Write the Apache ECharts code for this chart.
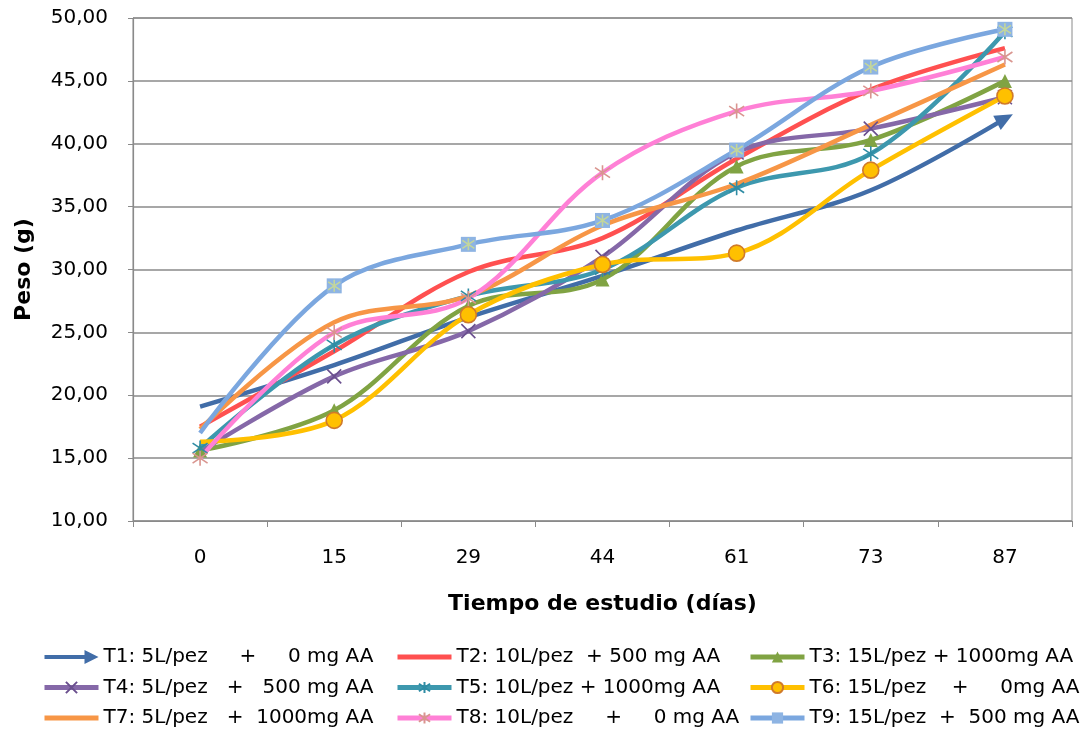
<!DOCTYPE html>
<html><head><meta charset="utf-8">
<script src="https://cdn.jsdelivr.net/npm/echarts@6/dist/echarts.min.js"></script>
<style>html,body{margin:0;padding:0;background:#fff}#c{width:1088px;height:730px}</style>
</head><body><div id="c"></div>
<script>
const categories = ['0', '15', '29', '44', '61', '73', '87'];
const yTickLabels = ['10,00','15,00','20,00','25,00','30,00','35,00','40,00','45,00','50,00'];
const names = [
  'T1: 5L/pez     +     0 mg AA',
  'T2: 10L/pez  + 500 mg AA',
  'T3: 15L/pez + 1000mg AA',
  'T4: 5L/pez   +   500 mg AA',
  'T5: 10L/pez + 1000mg AA',
  'T6: 15L/pez    +     0mg AA',
  'T7: 5L/pez   +  1000mg AA',
  'T8: 10L/pez     +     0 mg AA',
  'T9: 15L/pez  +  500 mg AA'
];
const T1 = [19.1, 22.4, 26.2, 29.5, 33.1, 36.3, 42.0];
const T2 = [17.5, 23.5, 29.8, 32.5, 38.8, 44.3, 47.6];
const T3 = [15.6, 18.8, 27.1, 29.2, 38.2, 40.3, 45.0];
const T4 = [15.5, 21.5, 25.1, 31.0, 39.3, 41.2, 43.7];
const T5 = [15.8, 24.0, 27.9, 30.0, 36.5, 39.2, 48.9];
const T6 = [16.3, 18.0, 26.4, 30.4, 31.3, 37.9, 43.8];
const T7 = [17.3, 25.8, 27.9, 33.5, 36.8, 41.5, 46.3];
const T8 = [15.0, 25.0, 27.7, 37.7, 42.6, 44.2, 46.9];
const T9 = [17.0, 28.7, 32.0, 33.9, 39.5, 46.1, 49.1];

const SM = 0.35, LW = 4.5;
const xPath = 'path://M0,0L10,10M10,0L0,10';
const starPath = 'path://M0,1L10,9M10,1L0,9M5,-1L5,11';

function line(name, data, color, extra) {
  return Object.assign({
    name: name, type: 'line', data: data, smooth: SM,
    lineStyle: { color: color, width: LW },
    itemStyle: { color: color },
    symbol: 'none'
  }, extra || {});
}
// first point drawn without a marker (as in the reference)
function noFirst(arr) { return arr.map((v, i) => i === 0 ? { value: v, symbol: 'none' } : v); }

const t1data = T1.map((v, i) => i === T1.length - 1
  ? { value: v, symbol: 'triangle', symbolSize: [16, 18], symbolRotate: -62 }
  : { value: v, symbol: 'none' });

const series = [
  line(names[0], t1data, '#416DA8', { symbol: 'none' }),
  line(names[1], T2, '#FF5050'),
  line(names[2], T3, '#80A343', { symbol: 'triangle', symbolSize: 14, itemStyle: { color: '#80A343' } }),
  line(names[3], noFirst(T4), '#8568A8', { symbol: xPath, symbolSize: 14, itemStyle: { color: '#6A4F8E', borderColor: '#6A4F8E', borderWidth: 1.6 } }),
  line(names[4], T5, '#3D98AE', { symbol: starPath, symbolSize: 15, itemStyle: { color: '#2F8CA4', borderColor: '#2F8CA4', borderWidth: 1.6 } }),
  line(names[5], noFirst(T6), '#FFC000', { symbol: 'circle', symbolSize: 16, itemStyle: { color: '#FFC000', borderColor: '#D07A2A', borderWidth: 1.6 } }),
  line(names[6], T7, '#F79646'),
  line(names[7], T8, '#FF80D6', { symbol: starPath, symbolSize: 15, itemStyle: { color: '#D9958F', borderColor: '#D9958F', borderWidth: 1.6 } }),
  line(names[8], noFirst(T9), '#7BA7DF', { symbol: 'rect', symbolSize: 15, itemStyle: { color: '#8EB4E3' } }),
  {
    name: 'T9m', type: 'line', data: noFirst(T9), silent: true, z: 3,
    lineStyle: { opacity: 0, width: 0 },
    symbol: starPath, symbolSize: 12,
    itemStyle: { color: '#C3D69B', borderColor: '#C3D69B', borderWidth: 1.6 }
  }
];

const legendText = { fontFamily: 'DejaVu Sans', fontSize: 20, color: '#000', lineHeight: 20 };
const t1Icon = 'path://M0,5L40,5L40,0L54,7L40,14L40,9L0,9Z';
const plainIcon = 'path://M0,0M0,4.5L54,4.5L54,9.5L0,9.5ZM54,14';
function legendCol(left, idx) {
  return {
    orient: 'vertical', left: left, top: 647, height: 100, padding: 0,
    itemWidth: 54, itemHeight: 14, itemGap: 10.5,
    lineStyle: { width: 5 },
    textStyle: legendText,
    data: idx.map(i => i === 0 ? { name: names[0], icon: t1Icon }
      : (i === 1 || i === 6) ? { name: names[i], icon: plainIcon } : names[i])
  };
}

const chart = echarts.init(document.getElementById('c'), null, { renderer: 'canvas' });
chart.setOption({
  animation: false,
  backgroundColor: '#fff',
  grid: { left: 133, right: 16, top: 18, bottom: 209, show: true, borderColor: '#8a8a8a', borderWidth: 1 },
  legend: [legendCol(42, [0, 3, 6]), legendCol(395, [1, 4, 7]), legendCol(748, [2, 5, 8])],
  xAxis: {
    type: 'category', data: categories, boundaryGap: true,
    name: 'Tiempo de estudio (días)', nameLocation: 'middle', nameGap: 72,
    nameTextStyle: { fontFamily: 'DejaVu Sans', fontWeight: 'bold', fontSize: 22, color: '#000' },
    axisLine: { lineStyle: { color: '#8a8a8a', width: 1.2 } },
    axisTick: { show: true, length: 6, lineStyle: { color: '#8a8a8a' } },
    axisLabel: { fontFamily: 'DejaVu Sans', fontSize: 20, color: '#000', margin: 27 },
    splitLine: { show: false }
  },
  yAxis: {
    type: 'value', min: 10, max: 50, interval: 5,
    name: 'Peso (g)', nameLocation: 'middle', nameGap: 98,
    nameTextStyle: { fontFamily: 'DejaVu Sans', fontWeight: 'bold', fontSize: 22, color: '#000' },
    axisLine: { show: true, lineStyle: { color: '#8a8a8a', width: 1.2 } },
    axisTick: { show: true, length: 5, lineStyle: { color: '#8a8a8a' } },
    axisLabel: {
      fontFamily: 'DejaVu Sans', fontSize: 20, color: '#000', margin: 25,
      formatter: v => yTickLabels[Math.round((v - 10) / 5)]
    },
    splitLine: { show: true, lineStyle: { color: '#8a8a8a', width: 1.5 } }
  },
  series: series
});
</script></body></html>
